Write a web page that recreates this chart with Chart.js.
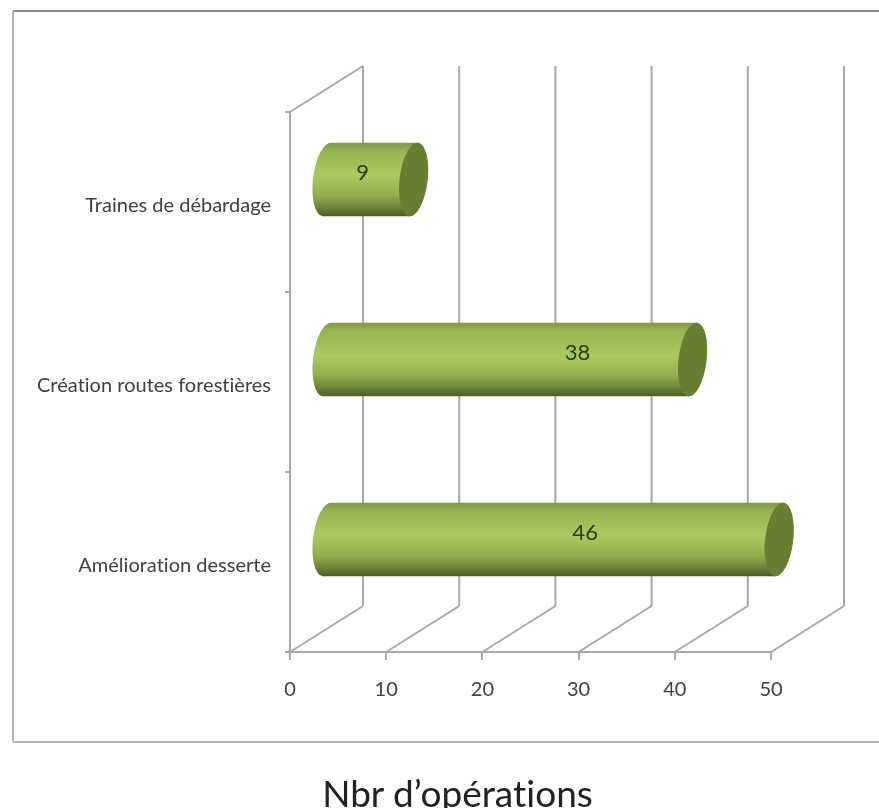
<!DOCTYPE html>
<html>
<head>
<meta charset="utf-8">
<title>Nbr d'opérations</title>
<script src="https://cdn.jsdelivr.net/npm/chart.js@4"></script>
<style>
    html, body { margin: 0; padding: 0; background: #fff; }
    canvas { display: block; }
    #xTitle {
        position: absolute;
        left: 0;
        top: 770px;
        width: 915px;
        text-align: center;
        font: 37px Lato, sans-serif;
        font-variant-ligatures: none;
        color: #222;
    }
</style>
</head>
<body>
<canvas id="chartContainer" width="879" height="808"></canvas>
<div id="xTitle">Nbr d’opérations</div>
<script>
const categories = ['Traines de débardage', 'Création routes forestières', 'Amélioration desserte'];
// the drawn bar of the last row reaches about 47 although its label says 46
const barLengths = [9, 38, 47];
const barLabels = ['9', '38', '46'];
const xTicks = [0, 10, 20, 30, 40, 50];

const lineColor = '#a9a9a9';
const textColor = '#404040';
const labelFont = 'Lato, sans-serif';

// depth of the fake 3d box
const depthX = 73;
const depthY = 46;

function line(ctx, x1, y1, x2, y2) {
    ctx.beginPath();
    ctx.moveTo(x1, y1);
    ctx.lineTo(x2, y2);
    ctx.stroke();
}

const framePlugin = {
    id: 'frame',
    beforeDraw(chart) {
        const ctx = chart.ctx;
        // tiny spacing just to stop the "ti" ligature in Lato
        ctx.letterSpacing = '0.01px';
        ctx.save();
        ctx.lineWidth = 2;
        ctx.strokeStyle = '#8c8c8c';
        line(ctx, 13, 11, 879, 11);
        ctx.strokeStyle = '#b4b4b4';
        line(ctx, 13, 11, 13, 742);
        line(ctx, 13, 742, 879, 742);
        ctx.restore();
    }
};

const wallsPlugin = {
    id: 'walls',
    beforeDatasetsDraw(chart) {
        const ctx = chart.ctx;
        const area = chart.chartArea;
        const xScale = chart.scales.x;
        ctx.save();
        ctx.lineWidth = 2;
        ctx.strokeStyle = lineColor;
        xTicks.forEach(t => {
            const px = xScale.getPixelForValue(t);
            line(ctx, px + depthX, area.top - depthY, px + depthX, area.bottom - depthY);
            line(ctx, px, area.bottom, px + depthX, area.bottom - depthY);
        });
        const left = xScale.getPixelForValue(0);
        line(ctx, left, area.top, left + depthX, area.top - depthY);
        ctx.restore();
    }
};

const cylinderPlugin = {
    id: 'cylinders',
    afterDatasetsDraw(chart) {
        const ctx = chart.ctx;
        const xScale = chart.scales.x;
        const meta = chart.getDatasetMeta(0);
        const rx = 14;
        const ry = 37;
        const tilt = 0.12;
        // how far left of the bar end each label sits
        const labelShift = [51, 115, 194];
        const startX = xScale.getPixelForValue(0) + 37;

        meta.data.forEach((bar, i) => {
            const endX = xScale.getPixelForValue(barLengths[i]) + 37;
            const cy = bar.y - 22.5;

            const grad = ctx.createLinearGradient(0, cy - ry, 0, cy + ry);
            grad.addColorStop(0, '#7d9a45');
            grad.addColorStop(0.12, '#94b552');
            grad.addColorStop(0.45, '#a8cb60');
            grad.addColorStop(0.72, '#8fae4c');
            grad.addColorStop(0.88, '#6d8537');
            grad.addColorStop(1, '#4c5a26');

            ctx.save();
            ctx.beginPath();
            ctx.ellipse(startX, cy, rx, ry, tilt, Math.PI / 2, Math.PI * 1.5);
            ctx.ellipse(endX, cy, rx, ry, tilt, -Math.PI / 2, Math.PI / 2);
            ctx.closePath();
            ctx.fillStyle = grad;
            ctx.fill();

            ctx.beginPath();
            ctx.ellipse(endX, cy, rx, ry, tilt, 0, Math.PI * 2);
            ctx.fillStyle = '#667f33';
            ctx.fill();

            ctx.fillStyle = '#2e3a14';
            ctx.font = '22px ' + labelFont;
            ctx.textAlign = 'center';
            ctx.textBaseline = 'middle';
            ctx.fillText(barLabels[i], endX - labelShift[i], cy - 7);
            ctx.restore();
        });
    }
};

const chart = new Chart(document.querySelector('#chartContainer'), {
    type: 'bar',
    data: {
        labels: categories,
        datasets: [{
            data: barLengths,
            backgroundColor: 'rgba(0, 0, 0, 0)',
            borderWidth: 0
        }]
    },
    options: {
        indexAxis: 'y',
        responsive: false,
        animation: false,
        layout: {
            padding: { top: 112, right: 108, bottom: 0, left: 0 }
        },
        plugins: {
            legend: { display: false },
            title: { display: false },
            tooltip: { enabled: false }
        },
        scales: {
            x: {
                min: 0,
                max: 50,
                afterFit: scale => { scale.height = 156; },
                afterBuildTicks: scale => { scale.ticks = xTicks.map(v => ({ value: v })); },
                grid: {
                    drawOnChartArea: false,
                    color: lineColor,
                    lineWidth: 2,
                    tickLength: 8
                },
                border: { color: lineColor, width: 2 },
                ticks: {
                    color: textColor,
                    padding: 18,
                    maxRotation: 0,
                    font: { family: labelFont, size: 20 }
                }
            },
            y: {
                afterFit: scale => { scale.width = 290; },
                grid: {
                    drawOnChartArea: false,
                    color: lineColor,
                    lineWidth: 2,
                    tickLength: 5
                },
                border: { color: lineColor, width: 2 },
                ticks: {
                    color: textColor,
                    padding: 14,
                    labelOffset: 4,
                    font: { family: labelFont, size: 20 }
                }
            }
        }
    },
    plugins: [framePlugin, wallsPlugin, cylinderPlugin]
});
</script>
</body>
</html>
